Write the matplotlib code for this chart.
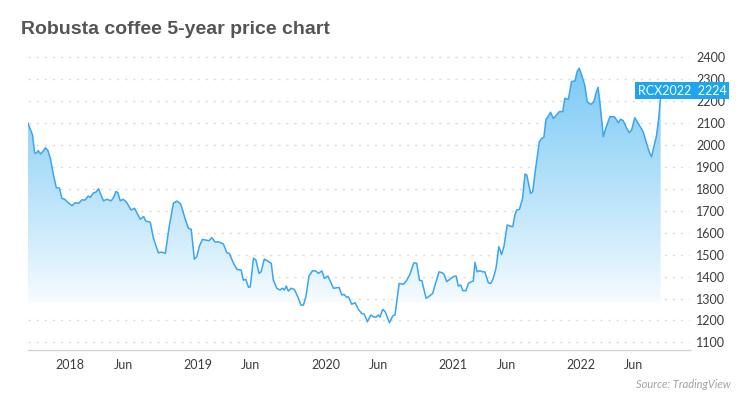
import numpy as np
import pandas as pd
import matplotlib
matplotlib.use("Agg")
import matplotlib.pyplot as plt
import matplotlib.colors as mcolors
import matplotlib.dates as mdates

plt.rcParams["font.family"] = ["Lato", "DejaVu Sans"]
plt.rcParams["lines.scale_dashes"] = False

# Robusta coffee (RCX2022)
dates = [
    "2017-09-02", "2017-09-15", "2017-09-21", "2017-09-26", "2017-10-01", "2017-10-08",
    "2017-10-14", "2017-10-22", "2017-10-29", "2017-11-05", "2017-11-14", "2017-11-22",
    "2017-12-01", "2017-12-08", "2017-12-16", "2017-12-25", "2018-01-06", "2018-01-15",
    "2018-01-25", "2018-02-03", "2018-02-13", "2018-02-21", "2018-02-27", "2018-03-09",
    "2018-03-15", "2018-03-23", "2018-03-31", "2018-04-06", "2018-04-16", "2018-04-28",
    "2018-05-05", "2018-05-12", "2018-05-17", "2018-05-24", "2018-06-01", "2018-06-10",
    "2018-06-24", "2018-07-04", "2018-07-20", "2018-07-30", "2018-08-05", "2018-08-18",
    "2018-08-27", "2018-09-10", "2018-09-20", "2018-09-30", "2018-10-11", "2018-10-23",
    "2018-11-02", "2018-11-13", "2018-11-26", "2018-12-05", "2018-12-13", "2018-12-22",
    "2018-12-29", "2019-01-05", "2019-01-14", "2019-01-24", "2019-02-02", "2019-02-10",
    "2019-02-20", "2019-03-01", "2019-03-15", "2019-03-25", "2019-04-01", "2019-04-13",
    "2019-04-23", "2019-05-05", "2019-05-11", "2019-05-18", "2019-05-26", "2019-05-31",
    "2019-06-09", "2019-06-16", "2019-06-25", "2019-07-01", "2019-07-10", "2019-07-20",
    "2019-07-30", "2019-08-05", "2019-08-15", "2019-08-24", "2019-08-31", "2019-09-06",
    "2019-09-11", "2019-09-17", "2019-09-25", "2019-10-04", "2019-10-14", "2019-10-23",
    "2019-10-30", "2019-11-06", "2019-11-15", "2019-11-25", "2019-12-04", "2019-12-12",
    "2019-12-22", "2019-12-29", "2020-01-08", "2020-01-24", "2020-02-09", "2020-02-17",
    "2020-02-23", "2020-03-02", "2020-03-07", "2020-03-16", "2020-03-26", "2020-04-04",
    "2020-04-14", "2020-04-21", "2020-04-30", "2020-05-10", "2020-05-17", "2020-05-25",
    "2020-05-31", "2020-06-05", "2020-06-13", "2020-06-20", "2020-07-02", "2020-07-12",
    "2020-07-18", "2020-07-30", "2020-08-11", "2020-08-21", "2020-08-30", "2020-09-10",
    "2020-09-18", "2020-09-26", "2020-10-03", "2020-10-15", "2020-10-26", "2020-11-03",
    "2020-11-10", "2020-11-14", "2020-11-21", "2020-11-29", "2020-12-05", "2020-12-13",
    "2020-12-22", "2021-01-01", "2021-01-09", "2021-01-15", "2021-01-22", "2021-01-28",
    "2021-02-06", "2021-02-13", "2021-02-22", "2021-02-27", "2021-03-04", "2021-03-10",
    "2021-03-18", "2021-03-26", "2021-04-01", "2021-04-11", "2021-04-18", "2021-04-25",
    "2021-05-03", "2021-05-11", "2021-05-19", "2021-05-26", "2021-06-04", "2021-06-12",
    "2021-06-20", "2021-06-26", "2021-07-01", "2021-07-09", "2021-07-18", "2021-07-25",
    "2021-07-30", "2021-08-10", "2021-08-16", "2021-08-25", "2021-09-04", "2021-09-11",
    "2021-09-17", "2021-09-23", "2021-09-29", "2021-10-06", "2021-10-14", "2021-10-21",
    "2021-10-31", "2021-11-10", "2021-11-16", "2021-11-26", "2021-12-05", "2021-12-15",
    "2021-12-21", "2021-12-27", "2022-01-03", "2022-01-12", "2022-01-19", "2022-01-29",
    "2022-02-07", "2022-02-13", "2022-02-19", "2022-02-24", "2022-03-06", "2022-03-13",
    "2022-03-25", "2022-04-03", "2022-04-08", "2022-04-18", "2022-04-24", "2022-05-02",
    "2022-05-12", "2022-05-19", "2022-05-26", "2022-06-04", "2022-06-11", "2022-06-21",
    "2022-06-28", "2022-07-08", "2022-07-15", "2022-07-22", "2022-07-29", "2022-08-05",
    "2022-08-11", "2022-08-17",
]
prices = [
    2100, 2046, 1965, 1963, 1975, 1960, 1970, 1988, 1975, 1940, 1864, 1806,
    1804, 1757, 1753, 1739, 1724, 1737, 1735, 1750, 1750, 1768, 1762, 1783,
    1785, 1801, 1768, 1746, 1753, 1746, 1762, 1789, 1783, 1746, 1753, 1742,
    1704, 1712, 1662, 1674, 1654, 1648, 1575, 1509, 1512, 1506, 1628, 1735,
    1745, 1731, 1662, 1620, 1616, 1480, 1491, 1537, 1570, 1567, 1564, 1578,
    1557, 1559, 1549, 1509, 1506, 1461, 1433, 1430, 1384, 1388, 1351, 1354,
    1484, 1476, 1415, 1422, 1480, 1471, 1461, 1384, 1347, 1339, 1347, 1339,
    1357, 1334, 1347, 1342, 1308, 1270, 1270, 1308, 1403, 1427, 1426, 1415,
    1426, 1392, 1403, 1347, 1351, 1316, 1319, 1306, 1308, 1274, 1281, 1251,
    1232, 1229, 1194, 1225, 1217, 1215, 1225, 1215, 1251, 1240, 1190, 1222,
    1225, 1369, 1365, 1384, 1412, 1463, 1461, 1384, 1381, 1301, 1313, 1324,
    1365, 1384, 1422, 1418, 1412, 1377, 1388, 1400, 1403, 1357, 1362, 1336,
    1336, 1369, 1377, 1380, 1465, 1422, 1427, 1422, 1422, 1372, 1369, 1392,
    1438, 1537, 1501, 1540, 1636, 1631, 1628, 1681, 1704, 1707, 1757, 1868,
    1864, 1780, 1788, 1902, 2016, 2031, 2036, 2118, 2130, 2150, 2122, 2133,
    2153, 2153, 2214, 2209, 2290, 2293, 2335, 2351, 2320, 2274, 2198, 2186,
    2198, 2237, 2264, 2198, 2039, 2077, 2130, 2130, 2127, 2102, 2118, 2112,
    2077, 2057, 2069, 2125, 2107, 2080, 2061, 2008, 1970, 1947, 1996, 2042,
    2115, 2224,
]
tick_dates = ["2018-01-01", "2018-06-01", "2019-01-01", "2019-06-01", "2020-01-01",
              "2020-06-01", "2021-01-01", "2021-06-01", "2022-01-01", "2022-06-01"]
tick_labels = ["2018", "Jun", "2019", "Jun", "2020", "Jun", "2021", "Jun", "2022", "Jun"]
y_ticks = list(range(1100, 2401, 100))
last_label = "RCX2022  2224"

x = pd.to_datetime(dates)
xn = mdates.date2num(x)
y = np.array(prices, dtype=float)
x_end = mdates.date2num(pd.Timestamp("2022-11-09"))
y_lo, y_hi = 1064, 2440

fig = plt.figure(figsize=(7.5, 3.98), dpi=100)
ax = fig.add_axes([0.0373, 0.1199, 0.8827, 0.7577])

# vertical gradient under the line, clipped to the area polygon
levels = np.linspace(y_lo, y_hi, 500)
g_top, g_bot = 2350, 1280
t = np.clip((levels - g_bot) / (g_top - g_bot), 0, 1)
c_top = np.array(mcolors.to_rgb("#7ccaf5"))
c_bot = np.array(mcolors.to_rgb("#f8fcff"))
rgba = np.zeros((len(levels), 1, 4))
rgba[:, 0, :3] = c_bot + (c_top - c_bot) * t[:, None] ** 0.9
rgba[:, 0, 3] = (levels >= g_bot).astype(float)
img = ax.imshow(rgba, extent=[xn[0], x_end, y_lo, y_hi], origin="lower",
                aspect="auto", interpolation="bilinear", zorder=1)
area = ax.fill_between(xn, y, y_lo, color="none", lw=0)
img.set_clip_path(area.get_paths()[0], transform=ax.transData)

for v in y_ticks:
    ax.axhline(v, color="#dcdcdc", lw=1.0, dashes=(1.6, 4.2), zorder=0.5)
ax.plot(xn, y, color="#3aa5f1", lw=1.1, zorder=3, solid_joinstyle="round")

ax.set_xlim(xn[0], x_end)
ax.set_ylim(y_lo, y_hi)
ax.set_xticks(mdates.date2num(pd.to_datetime(tick_dates)))
ax.set_xticklabels(tick_labels)
ax.set_yticks(y_ticks)
ax.yaxis.tick_right()
ax.tick_params(axis="both", length=0, labelsize=9, labelcolor="#3c3c3c")
ax.tick_params(axis="x", pad=6.5)
ax.tick_params(axis="y", pad=4.3)
for side in ("top", "left", "right"):
    ax.spines[side].set_visible(False)
ax.spines["bottom"].set_color("#d4d4d4")
ax.spines["bottom"].set_linewidth(1.0)

# last-price tag sits just above the final value, over the axis labels
ax.text(0.921, prices[-1] + 25, last_label, transform=ax.get_yaxis_transform(),
        ha="left", va="center", fontsize=9, color="white", clip_on=False, zorder=5,
        bbox=dict(boxstyle="square,pad=0.2", fc="#1ea5ee", ec="none"))

fig.text(21 / 750, 1 - 33.5 / 398, "Robusta coffee 5-year price chart",
         fontfamily="Liberation Sans", fontweight="bold", fontsize=14,
         color="#555555", va="baseline", ha="left")
fig.text(731 / 750, 1 - 387.5 / 398, "Source: TradingView", fontsize=8,
         fontstyle="italic", color="#a3a3a3", ha="right", va="baseline")

fig.savefig("out.png", dpi=100)
